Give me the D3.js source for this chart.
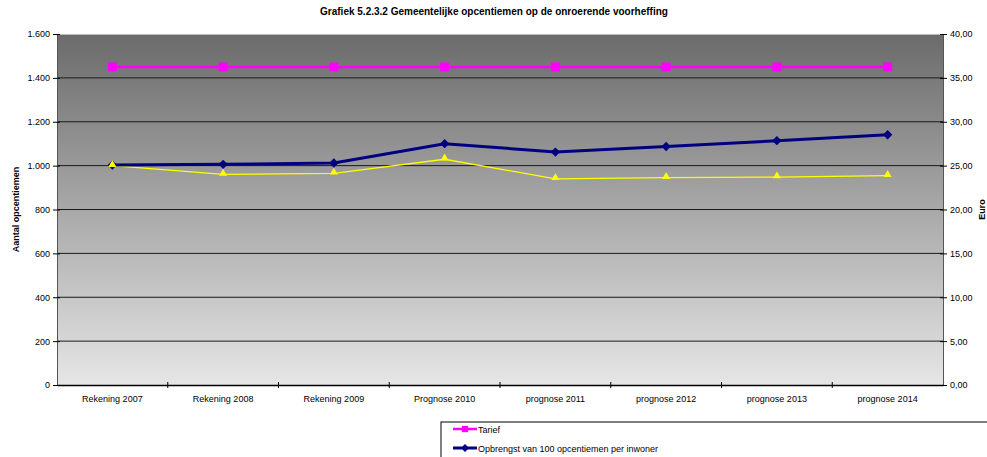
<!DOCTYPE html>
<html>
<head>
<meta charset="utf-8">
<script src="https://cdn.jsdelivr.net/npm/d3@7"></script>
<style>
  body { margin: 0; background: #fff; }
  text { font-family: "Liberation Sans", Arial, sans-serif; fill: #000; }
</style>
</head>
<body>
<div class="chart"></div>
<script>
// Grafiek 5.2.3.2 - opcentiemen op de onroerende voorheffing

var categories = ["Rekening 2007", "Rekening 2008", "Rekening 2009", "Prognose 2010",
  "prognose 2011", "prognose 2012", "prognose 2013", "prognose 2014"];

// left axis (aantal opcentiemen)
var tarief = [1450, 1450, 1450, 1450, 1450, 1450, 1450, 1450];
var geel = [1000, 960, 965, 1029, 940, 945, 948, 954];

// right axis (euro)
var opbrengst = [25.07, 25.15, 25.30, 27.50, 26.55, 27.18, 27.84, 28.52];

var leftTicks = [0, 200, 400, 600, 800, 1000, 1200, 1400, 1600];
var rightTicks = [0, 5, 10, 15, 20, 25, 30, 35, 40];

var svgWidth = 987;
var svgHeight = 457;
var margin = { top: 34, right: 44, bottom: 72, left: 57 };
var width = svgWidth - margin.left - margin.right;
var height = svgHeight - margin.top - margin.bottom;

var svg = d3.select(".chart")
  .append("svg")
  .attr("width", svgWidth)
  .attr("height", svgHeight);

var defs = svg.append("defs");
var grad = defs.append("linearGradient")
  .attr("id", "bg")
  .attr("x1", 0).attr("y1", 0).attr("x2", 0).attr("y2", 1);
grad.append("stop").attr("offset", "0%").attr("stop-color", "#6b6b6b");
grad.append("stop").attr("offset", "100%").attr("stop-color", "#e6e6e6");

var chart = svg.append("g")
  .attr("transform", "translate(" + margin.left + "," + margin.top + ")");

var x = d3.scaleBand().domain(categories).range([0, width]);
var yLeft = d3.scaleLinear().domain([0, 1600]).range([height, 0]);
var yRight = d3.scaleLinear().domain([0, 40]).range([height, 0]);

// plot background
chart.append("rect")
  .attr("width", width)
  .attr("height", height)
  .attr("fill", "url(#bg)");
chart.append("line")
  .attr("x1", 0).attr("x2", width).attr("y1", 0.5).attr("y2", 0.5)
  .attr("stroke", "#bdbdbd");

// gridlines
chart.selectAll(".grid")
  .data(leftTicks.slice(1, -1))
  .enter().append("line")
  .attr("x1", 0).attr("x2", width)
  .attr("y1", function(d) { return yLeft(d); })
  .attr("y2", function(d) { return yLeft(d); })
  .attr("stroke", "#1a1a1a")
  .attr("stroke-width", 1);

var leFmt = d3.formatLocale({ decimal: ",", thousands: ".", grouping: [3], currency: ["", ""] });

// left axis
var leftAxis = d3.axisLeft(yLeft).tickValues(leftTicks).tickSize(4).tickSizeOuter(0)
  .tickFormat(leFmt.format(",d"));
var gl = chart.append("g").call(leftAxis);
gl.select(".domain").attr("stroke", "#555");
gl.selectAll(".tick line").attr("stroke", "#000").attr("x2", 3).attr("x1", -4);
gl.selectAll("text").attr("font-size", 9).attr("font-family", "Liberation Sans, Arial, sans-serif").attr("x", -7);

// right axis
var rightAxis = d3.axisRight(yRight).tickValues(rightTicks).tickSize(4).tickSizeOuter(0)
  .tickFormat(leFmt.format(",.2f"));
var gr = chart.append("g").attr("transform", "translate(" + width + ",0)").call(rightAxis);
gr.select(".domain").attr("stroke", "#555");
gr.selectAll(".tick line").attr("stroke", "#000").attr("x1", -3).attr("x2", 4);
gr.selectAll("text").attr("font-size", 9).attr("font-family", "Liberation Sans, Arial, sans-serif").attr("x", 7);

// bottom axis
var bottomAxis = d3.axisBottom(x).tickSize(0).tickSizeOuter(0);
var gb = chart.append("g").attr("transform", "translate(0," + height + ")").call(bottomAxis);
gb.select(".domain").attr("stroke", "#000").attr("stroke-width", 1.5);
gb.selectAll("text").attr("font-size", 9).attr("font-family", "Liberation Sans, Arial, sans-serif").attr("dy", 0).attr("y", 17);
gb.selectAll(".sep")
  .data(categories.slice(1))
  .enter().append("line")
  .attr("x1", function(d) { return x(d); })
  .attr("x2", function(d) { return x(d); })
  .attr("y1", -3).attr("y2", 3)
  .attr("stroke", "#000");

function cx(d, i) { return x(categories[i]) + x.bandwidth() / 2; }

// yellow series
chart.append("path")
  .datum(geel)
  .attr("fill", "none")
  .attr("stroke", "#ffff00")
  .attr("stroke-width", 1.3)
  .attr("d", d3.line().x(cx).y(function(d) { return yLeft(d); }));

// navy series
chart.append("path")
  .datum(opbrengst)
  .attr("fill", "none")
  .attr("stroke", "#000080")
  .attr("stroke-width", 3)
  .attr("d", d3.line().x(cx).y(function(d) { return yRight(d); }));
chart.selectAll(".dia")
  .data(opbrengst)
  .enter().append("path")
  .attr("d", d3.symbol().type(d3.symbolDiamond2).size(55))
  .attr("transform", function(d, i) { return "translate(" + cx(d, i) + "," + yRight(d) + ")"; })
  .attr("fill", "#000080");

chart.selectAll(".tri")
  .data(geel)
  .enter().append("path")
  .attr("d", d3.symbol().type(d3.symbolTriangle).size(28))
  .attr("transform", function(d, i) { return "translate(" + cx(d, i) + "," + (yLeft(d) - 1) + ")"; })
  .attr("fill", "#ffff00");

// pink series
chart.append("path")
  .datum(tarief)
  .attr("fill", "none")
  .attr("stroke", "#ff00ff")
  .attr("stroke-width", 2.5)
  .attr("d", d3.line().x(cx).y(function(d) { return yLeft(d); }));
chart.selectAll(".sq")
  .data(tarief)
  .enter().append("rect")
  .attr("x", function(d, i) { return cx(d, i) - 4.5; })
  .attr("y", function(d) { return yLeft(d) - 4.5; })
  .attr("width", 9).attr("height", 9)
  .attr("fill", "#ff00ff");

// title
svg.append("text")
  .attr("x", 494).attr("y", 15)
  .attr("text-anchor", "middle")
  .attr("font-size", 10).attr("font-weight", "bold")
  .text("Grafiek 5.2.3.2 Gemeentelijke opcentiemen op de onroerende voorheffing");

// axis titles
svg.append("text")
  .attr("transform", "translate(19," + (margin.top + height / 2) + ") rotate(-90)")
  .attr("text-anchor", "middle")
  .attr("font-size", 9).attr("font-weight", "bold")
  .text("Aantal opcentiemen");
svg.append("text")
  .attr("transform", "translate(985," + (margin.top + height / 2) + ") rotate(-90)")
  .attr("text-anchor", "middle")
  .attr("font-size", 9).attr("font-weight", "bold")
  .text("Euro");

// legend (cut off by the picture edge)
var legend = svg.append("g").attr("transform", "translate(441,422)");
legend.append("rect")
  .attr("width", 560).attr("height", 50)
  .attr("fill", "#fff").attr("stroke", "#000").attr("stroke-width", 1);

var legendItems = [
  { name: "Tarief", color: "#ff00ff", shape: "square", w: 2.5 },
  { name: "Opbrengst van 100 opcentiemen per inwoner", color: "#000080", shape: "diamond", w: 3 }
];
var li = legend.selectAll(".li")
  .data(legendItems)
  .enter().append("g")
  .attr("transform", function(d, i) { return "translate(12," + (7 + i * 19) + ")"; });
li.append("line")
  .attr("x1", 0).attr("x2", 24)
  .attr("stroke", function(d) { return d.color; })
  .attr("stroke-width", function(d) { return d.w; });
li.append("path")
  .attr("transform", "translate(12,0)")
  .attr("d", function(d) {
    return d.shape == "square"
      ? d3.symbol().type(d3.symbolSquare).size(40)()
      : d3.symbol().type(d3.symbolDiamond2).size(40)();
  })
  .attr("fill", function(d) { return d.color; });
li.append("text")
  .attr("x", 25).attr("y", 3.5)
  .attr("font-size", 9)
  .text(function(d) { return d.name; });
</script>
</body>
</html>
